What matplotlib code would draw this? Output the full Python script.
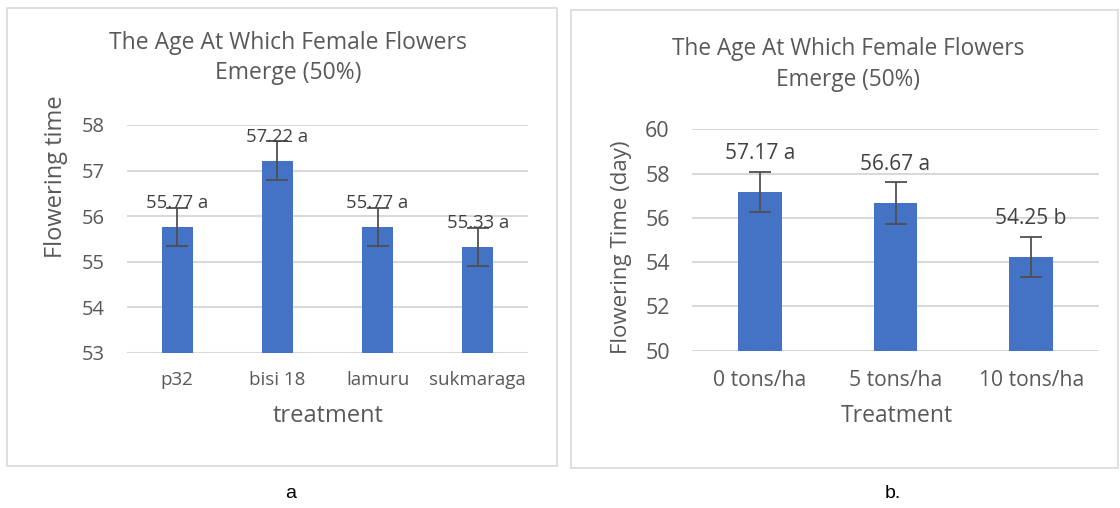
import matplotlib.pyplot as plt
from matplotlib.patches import Rectangle

plt.rcParams['font.family'] = ['Open Sans', 'DejaVu Sans']

# panel a: varieties
var_names = ['p32', 'bisi 18', 'lamuru', 'sukmaraga']
var_means = [55.77, 57.22, 55.77, 55.33]
var_err = [0.42, 0.42, 0.42, 0.42]
var_labels = ['55.77 a', '57.22 a', '55.77 a', '55.33 a']

# panel b: manure dose
dose_names = ['0 tons/ha', '5 tons/ha', '10 tons/ha']
dose_means = [57.17, 56.67, 54.25]
dose_err = [0.9, 0.95, 0.9]
dose_labels = ['57.17 a', '56.67 a', '54.25 b']

title = 'The Age At Which Female Flowers\nEmerge (50%)'
bar_col = '#4472C4'
txt_col = '#595959'
grid_col = '#D9D9D9'
err_col = '#505050'

W, H = 1120, 508
fig = plt.figure(figsize=(W / 100, H / 100), dpi=100)


def px(x, y):
    return x / W, 1 - y / H


# outer chart frames
for x0, y0, w, h in [(7, 8, 550, 458), (571, 10, 547, 458)]:
    fig.patches.append(Rectangle(px(x0, y0 + h), w / W, h / H,
                                 transform=fig.transFigure, fill=False,
                                 edgecolor=grid_col, linewidth=1.2))


def draw(ax, names, means, err, labels, ylim, yticks, width, lab_off,
         lab_fs, ytick_fs, xtick_fs, xpad):
    x = range(len(names))
    ax.bar(x, [m - ylim[0] for m in means], bottom=ylim[0], width=width,
           color=bar_col, zorder=3)
    ax.errorbar(x, means, yerr=err, fmt='none', ecolor=err_col, elinewidth=1.3,
                capsize=8, capthick=1.3, zorder=4)
    for xi, m, lab in zip(x, means, labels):
        ax.annotate(lab, (xi, m), xytext=(0, lab_off), textcoords='offset points',
                    ha='center', va='center', fontsize=lab_fs, color='#404040', zorder=5)
    ax.set_xlim(-0.5, len(names) - 0.5)
    ax.set_ylim(*ylim)
    ax.set_yticks(yticks)
    ax.set_xticks(list(x))
    ax.set_xticklabels(names)
    ax.yaxis.grid(True, color=grid_col, linewidth=1.5, zorder=0)
    ax.set_axisbelow(True)
    for s in ax.spines.values():
        s.set_visible(False)
    ax.tick_params(length=0, colors=txt_col)
    ax.tick_params(axis='y', labelsize=ytick_fs, pad=16)
    ax.tick_params(axis='x', labelsize=xtick_fs, pad=xpad)


l1, t1 = px(127, 125)
_, b1 = px(0, 353)
ax1 = fig.add_axes([l1, b1, 401 / W, t1 - b1])
draw(ax1, var_names, var_means, var_err, var_labels, (53, 58), range(53, 59),
     0.31, 17, 13.3, 14.5, 13.5, 13)
fig.text(*px(288, 58), title, ha='center', va='center',
         fontsize=16.5, color=txt_col, linespacing=1.37)
fig.text(*px(56, 177), 'Flowering time', rotation=90, ha='center', va='center',
         fontsize=17, color=txt_col)
fig.text(*px(328, 416), 'treatment', ha='center', va='center',
         fontsize=17, color=txt_col)

l2, t2 = px(692, 129.3)
_, b2 = px(0, 350.7)
ax2 = fig.add_axes([l2, b2, 407 / W, t2 - b2])
draw(ax2, dose_names, dose_means, dose_err, dose_labels, (50, 60), range(50, 61, 2),
     0.32, 27.5, 15, 15.5, 15.2, 14)
fig.text(*px(848, 64.5), title, ha='center', va='center',
         fontsize=16.3, color=txt_col, linespacing=1.37)
fig.text(*px(622, 247.5), 'Flowering Time (day)', rotation=90, ha='center',
         va='center', fontsize=16, color=txt_col)
fig.text(*px(897, 416), 'Treatment', ha='center', va='center',
         fontsize=16.5, color=txt_col)

fig.text(*px(291, 493), 'a', ha='center', va='center', fontsize=14,
         color='black', family=['Liberation Sans', 'DejaVu Sans'])
fig.text(*px(893, 493), 'b.', ha='center', va='center', fontsize=14,
         color='black', family=['Liberation Sans', 'DejaVu Sans'])

fig.savefig('out.png', dpi=100)
